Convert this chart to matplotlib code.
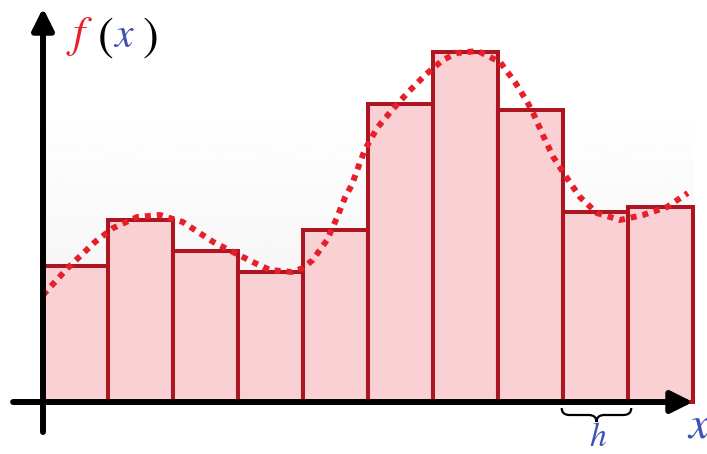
import numpy as np
import matplotlib.pyplot as plt
from matplotlib.path import Path
from matplotlib.patches import PathPatch

# bar heights (width h = 1), ten intervals
bar_left = [0, 1, 2, 3, 4, 5, 6, 7, 8, 9]
bar_heights = [1.36, 1.82, 1.51, 1.30, 1.72, 2.98, 3.50, 2.92, 1.90, 1.95]

# f(x)
curve_x = [0.00, 0.38, 0.80, 1.08, 1.45, 1.80, 2.15, 2.62, 2.95, 3.26,
           3.49, 3.83, 4.00, 4.15, 4.37, 4.52, 4.65, 4.75, 4.88, 4.95,
           5.14, 5.37, 5.62, 5.88, 6.15, 6.37, 6.69, 7.03, 7.26, 7.45,
           7.54, 7.69, 7.85, 8.06, 8.26, 8.52, 8.88, 9.23, 9.60, 9.92]
curve_y = [1.07, 1.34, 1.60, 1.74, 1.85, 1.87, 1.80, 1.60, 1.49, 1.39,
           1.32, 1.30, 1.34, 1.42, 1.62, 1.84, 2.05, 2.17, 2.40, 2.52,
           2.74, 2.92, 3.10, 3.27, 3.42, 3.49, 3.51, 3.40, 3.20, 3.00,
           2.89, 2.67, 2.45, 2.24, 2.05, 1.89, 1.82, 1.87, 1.95, 2.09]

fill_color = '#f9d0d3'
edge_color = '#ad1620'
dot_color = '#e61f2b'
blue = '#3f51b5'
red = '#e8202a'

fig = plt.figure(figsize=(7.07, 4.54), dpi=100)
ax = fig.add_axes([0, 0, 1, 1])
ax.set_xlim(-43 / 65, 664 / 65)
ax.set_ylim(-0.52, 4.02)
ax.axis('off')

# faint grey wash behind the bars (grey low, white high)
grad = np.linspace(0, 1, 100).reshape(-1, 1)
ax.imshow(0.965 + 0.035 * grad, cmap='gray', vmin=0, vmax=1, aspect='auto',
          origin='lower', extent=[0, 10, 1.30, 2.97], zorder=0,
          interpolation='bilinear')

ax.bar(bar_left, bar_heights, width=1, align='edge', color=fill_color,
       edgecolor=edge_color, linewidth=2.9, zorder=2)

ax.plot(curve_x, curve_y, color=dot_color, linewidth=4.3,
        linestyle=(0, (1, 1)), dash_capstyle='butt', zorder=3)

# axes with arrows
arrow = dict(arrowstyle='-|>,head_length=1.0,head_width=0.5', color='black',
             lw=4.3, mutation_scale=13, shrinkA=0, shrinkB=0)
ax.annotate('', xy=(0, 3.94), xytext=(0, -0.30), arrowprops=arrow, zorder=4)
ax.annotate('', xy=(10.0, 0), xytext=(-0.46, 0), arrowprops=arrow, zorder=4)

# brace under one interval
L, R, M = 7.98, 9.05, 8.515
y0, y1, y2 = -0.06, -0.13, -0.20
dx = 0.12
verts = [(L, y0), (L, y1), (L + dx, y1), (M - dx, y1), (M, y1), (M, y2),
         (M, y1), (M + dx, y1), (R - dx, y1), (R, y1), (R, y0)]
codes = [Path.MOVETO, Path.CURVE3, Path.CURVE3, Path.LINETO, Path.CURVE3, Path.CURVE3,
         Path.CURVE3, Path.CURVE3, Path.LINETO, Path.CURVE3, Path.CURVE3]
ax.add_patch(PathPatch(Path(verts, codes), fill=False, lw=1.6, color='black',
                       zorder=4, clip_on=False))

font = dict(family='STIXGeneral', style='italic')
ax.text(8.53, -0.44, 'h', color=blue, fontsize=24, ha='center', va='baseline', **font)
ax.text(9.92, -0.36, 'x', color=blue, fontsize=33, ha='left', va='baseline', **font)

# f(x) label
ax.text(0.45, 3.55, 'f', color=red, fontsize=32, ha='left', va='baseline', **font)
ax.text(0.84, 3.52, '(', color='black', fontsize=34, ha='left', va='baseline', family='STIXGeneral')
ax.text(1.10, 3.55, 'x', color=blue, fontsize=30, ha='left', va='baseline', **font)
ax.text(1.53, 3.52, ')', color='black', fontsize=34, ha='left', va='baseline', family='STIXGeneral')

fig.savefig('out.png', dpi=100)
